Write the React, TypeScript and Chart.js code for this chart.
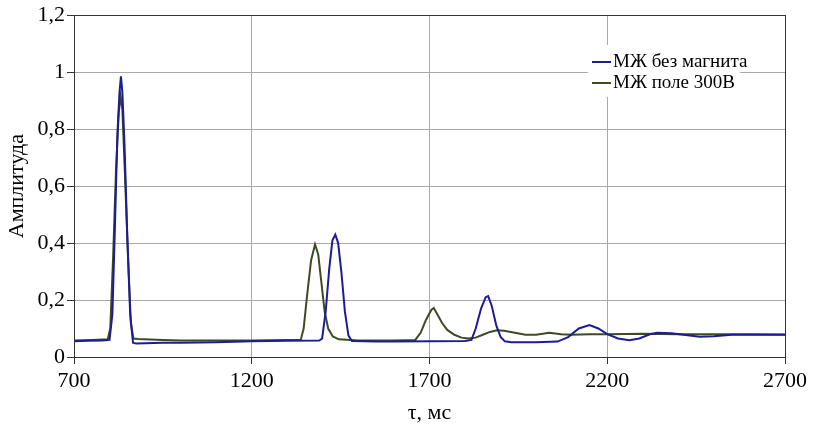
import React, { useEffect, useRef } from "react";
import { Chart, registerables } from "chart.js";

Chart.register(...registerables);

// τ, ms (x values) and amplitudes
const blueT = [700, 740, 780, 800, 808, 815, 822, 828, 832, 836, 842, 850, 858, 866, 875, 900, 950, 1000, 1100, 1200, 1300, 1390, 1398, 1408, 1418, 1427, 1435, 1443, 1452, 1462, 1472, 1482, 1550, 1600, 1700, 1800, 1818, 1830, 1845, 1858, 1865, 1875, 1888, 1900, 1912, 1930, 2000, 2060, 2090, 2120, 2150, 2175, 2200, 2230, 2262, 2290, 2320, 2340, 2380, 2420, 2460, 2500, 2550, 2600, 2700];
const blueA = [0.055, 0.057, 0.058, 0.06, 0.15, 0.45, 0.78, 0.93, 0.985, 0.93, 0.75, 0.42, 0.15, 0.05, 0.047, 0.048, 0.05, 0.05, 0.052, 0.055, 0.057, 0.058, 0.065, 0.16, 0.31, 0.41, 0.43, 0.4, 0.3, 0.16, 0.075, 0.056, 0.054, 0.054, 0.055, 0.056, 0.06, 0.1, 0.17, 0.21, 0.214, 0.18, 0.11, 0.07, 0.055, 0.052, 0.052, 0.054, 0.07, 0.1, 0.112, 0.1, 0.08, 0.065, 0.059, 0.065, 0.08, 0.085, 0.083, 0.077, 0.071, 0.073, 0.078, 0.078, 0.078];

const greenT = [700, 750, 795, 802, 810, 818, 826, 831, 836, 843, 852, 860, 867, 880, 950, 1000, 1100, 1200, 1300, 1338, 1346, 1356, 1367, 1378, 1387, 1396, 1405, 1415, 1428, 1445, 1500, 1600, 1660, 1675, 1690, 1705, 1712, 1722, 1735, 1750, 1770, 1790, 1810, 1830, 1850, 1870, 1890, 1910, 1940, 1970, 2000, 2037, 2070, 2100, 2150, 2200, 2300, 2400, 2500, 2600, 2700];
const greenA = [0.058, 0.06, 0.062, 0.1, 0.35, 0.65, 0.86, 0.915, 0.87, 0.65, 0.35, 0.12, 0.065, 0.063, 0.06, 0.058, 0.058, 0.058, 0.06, 0.061, 0.1, 0.22, 0.34, 0.395, 0.36, 0.26, 0.16, 0.1, 0.072, 0.062, 0.058, 0.058, 0.06, 0.085, 0.13, 0.165, 0.172, 0.15, 0.12, 0.095, 0.078, 0.068, 0.065, 0.068, 0.078, 0.088, 0.094, 0.092, 0.085, 0.078, 0.078, 0.085, 0.08, 0.078, 0.08, 0.08, 0.082, 0.08, 0.08, 0.08, 0.079];

const seriesLabels = ["МЖ без магнита", "МЖ поле 300В"];
const seriesColors = ["#1c1c96", "#3d4a22"];
const xTitle = "τ, мс";
const yTitle = "Амплитуда";

const FONT = "'Liberation Serif', 'Times New Roman', serif";

const frameAndLegend = {
  id: "frameAndLegend",
  afterDatasetsDraw(chart: any) {
    const { ctx, chartArea } = chart;
    ctx.save();
    ctx.strokeStyle = "#333";
    ctx.lineWidth = 1;
    ctx.strokeRect(
      Math.round(chartArea.left) + 0.5,
      Math.round(chartArea.top) + 0.5,
      Math.round(chartArea.right - chartArea.left),
      Math.round(chartArea.bottom - chartArea.top)
    );
    // legend
    ctx.fillStyle = "#fff";
    ctx.fillRect(588, 45, 152, 52);
    ctx.font = `19px ${FONT}`;
    ctx.textBaseline = "middle";
    ctx.textAlign = "left";
    chart.data.datasets.forEach((ds: any, i: number) => {
      const y = 62 + i * 21;
      ctx.strokeStyle = ds.borderColor;
      ctx.lineWidth = 2;
      ctx.beginPath();
      ctx.moveTo(592, y);
      ctx.lineTo(611, y);
      ctx.stroke();
      ctx.fillStyle = "#000";
      ctx.fillText(ds.label, 613, y);
    });
    ctx.restore();
  },
};

export default function App() {
  const ref = useRef<HTMLCanvasElement>(null);
  useEffect(() => {
    if (!ref.current) return;
    const chart = new Chart(ref.current, {
      type: "line",
      data: {
        datasets: [
          {
            label: seriesLabels[0],
            data: blueT.map((t, i) => ({ x: t, y: blueA[i] })),
            borderColor: seriesColors[0],
            backgroundColor: seriesColors[0],
            borderWidth: 2,
            pointRadius: 0,
            tension: 0,
          },
          {
            label: seriesLabels[1],
            data: greenT.map((t, i) => ({ x: t, y: greenA[i] })),
            borderColor: seriesColors[1],
            backgroundColor: seriesColors[1],
            borderWidth: 2,
            pointRadius: 0,
            tension: 0,
          },
        ],
      },
      options: {
        responsive: false,
        animation: false,
        layout: { padding: { top: 14, right: 32, left: 0, bottom: 0 } },
        plugins: {
          legend: { display: false },
          tooltip: { enabled: false },
        },
        scales: {
          x: {
            type: "linear",
            min: 700,
            max: 2700,
            ticks: {
              stepSize: 500,
              color: "#000",
              font: { family: FONT, size: 22 },
              padding: 4,
              callback: (v: any) => String(v),
            },
            grid: { color: "#a8a8a8", tickLength: 7, tickColor: "#333" },
            border: { color: "#333" },
            title: {
              display: true,
              text: xTitle,
              color: "#000",
              font: { family: FONT, size: 22 },
              padding: { top: 0, bottom: 11 },
            },
            afterFit: (s: any) => {
              s.height = 80;
            },
          },
          y: {
            min: 0,
            max: 1.2,
            ticks: {
              stepSize: 0.2,
              color: "#000",
              font: { family: FONT, size: 22 },
              padding: 2,
              callback: (v: any) => String(Number(Number(v).toFixed(1))).replace(".", ","),
            },
            grid: { color: "#a8a8a8", tickLength: 7, tickColor: "#333" },
            border: { color: "#333" },
            title: {
              display: true,
              text: yTitle,
              color: "#000",
              font: { family: FONT, size: 22 },
              padding: { top: 4, bottom: 0 },
            },
            afterFit: (s: any) => {
              s.width = 74;
            },
          },
        },
      },
      plugins: [frameAndLegend],
    });
    return () => chart.destroy();
  }, []);
  return (
    <div style={{ position: "absolute", left: 0, top: 0, width: 817, height: 437, background: "#fff" }}>
      <canvas ref={ref} width={817} height={437} style={{ display: "block" }} />
    </div>
  );
}
